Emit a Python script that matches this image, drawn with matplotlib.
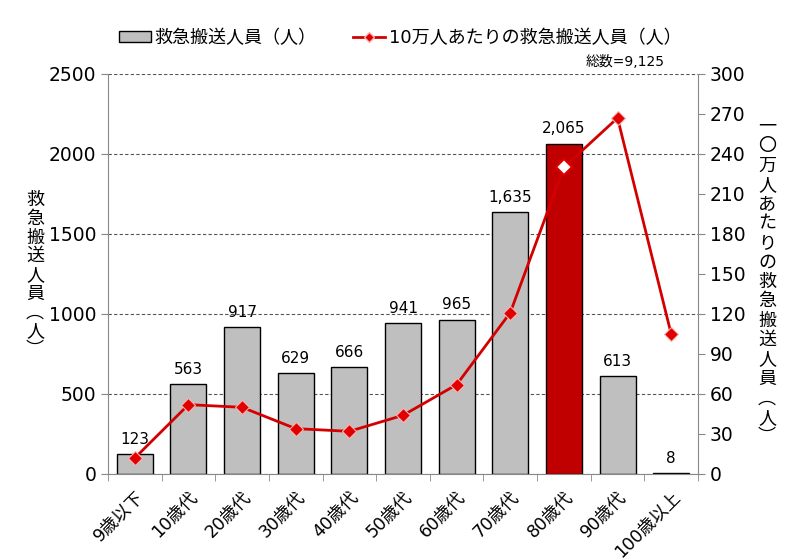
import matplotlib
matplotlib.use("Agg")
import matplotlib.pyplot as plt
from matplotlib.patches import Patch
from matplotlib.lines import Line2D
import numpy as np

plt.rcParams['font.family'] = ['DejaVu Sans', 'Noto Sans CJK JP']

categories = ["9歳以下", "10歳代", "20歳代", "30歳代", "40歳代", "50歳代",
              "60歳代", "70歳代", "80歳代", "90歳代", "100歳以上"]
counts = [123, 563, 917, 629, 666, 941, 965, 1635, 2065, 613, 8]
count_labels = ["123", "563", "917", "629", "666", "941", "965", "1,635", "2,065", "613", "8"]
per100k = [12, 52, 50, 34, 32, 44, 67, 121, 230, 267, 105]
highlight = 8

left_ticks = [0, 500, 1000, 1500, 2000, 2500]
right_ticks = [0, 30, 60, 90, 120, 150, 180, 210, 240, 270, 300]

fig = plt.figure(figsize=(8, 5.6), dpi=100)
ax = fig.add_axes([0.135, 0.1536, 0.7375, 0.7143])
x = np.arange(len(categories))

colors = ['#bfbfbf'] * len(categories)
colors[highlight] = '#c00000'
ax.bar(x, counts, width=0.67, color=colors, edgecolor='black', linewidth=1.0, zorder=2)
for xi, v, lab in zip(x, counts, count_labels):
    ax.text(xi, v + 45, lab, ha='center', va='bottom', fontsize=11, color='black')

ax.set_xlim(-0.5, len(categories) - 0.5)
ax.set_ylim(0, 2500)
ax.set_yticks(left_ticks)
ax.yaxis.grid(True, linestyle=(0, (3, 2)), color='#555555', linewidth=0.8, zorder=0)
ax.set_axisbelow(True)
ax.set_xticks(x)
ax.set_xticklabels(categories, rotation=45, ha='right', rotation_mode='anchor', fontsize=12.5)
ax.set_xticks(np.arange(-0.5, len(categories)), minor=True)
ax.tick_params(axis='x', which='major', length=0, pad=10)
ax.tick_params(axis='x', which='minor', length=5, color='#888888', direction='out')
ax.tick_params(axis='y', length=5, color='#888888', labelsize=13.5, direction='out')
ax.spines['top'].set_visible(False)
ax.spines['left'].set_color('#888888')
ax.spines['right'].set_visible(False)
ax.spines['bottom'].set_color('#888888')

ax2 = ax.twinx()
ax2.set_ylim(0, 300)
ax2.set_yticks(right_ticks)
ax2.tick_params(axis='y', length=5, color='#888888', labelsize=13.5)
for s in ['top', 'left', 'bottom']:
    ax2.spines[s].set_visible(False)
ax2.spines['right'].set_color('#888888')
ax2.plot(x, per100k, color='#d40000', linewidth=2, zorder=3)
mask = [i for i in range(len(x)) if i != highlight]
ax2.plot(x[mask], np.array(per100k)[mask], linestyle='none', marker='D', markersize=7,
         markerfacecolor='#e00000', markeredgecolor='#ffb0b0', markeredgewidth=0.8, zorder=4)
ax2.plot([x[highlight]], [per100k[highlight]], linestyle='none', marker='D', markersize=8,
         markerfacecolor='white', markeredgecolor='#e00000', markeredgewidth=1.5, zorder=4)

left_label = "救急搬送人員︵人︶"
right_label = "一〇万人あたりの救急搬送人員︵人︶"
fig.text(35 / 800, 1 - 275 / 560, "\n".join(left_label), ha='center', va='center',
         fontsize=13, linespacing=1.05, family=['Noto Sans CJK JP'])
fig.text(767 / 800, 1 - 282 / 560, "\n".join(right_label), ha='center', va='center',
         fontsize=13, linespacing=1.1, family=['Noto Sans CJK JP'])

handles = [Patch(facecolor='#bfbfbf', edgecolor='black', linewidth=1.0),
           Line2D([0], [0], color='#d40000', linewidth=2, marker='D', markersize=5,
                  markerfacecolor='#e00000', markeredgecolor='#ffb0b0')]
fig.legend(handles, ["救急搬送人員（人）", "10万人あたりの救急搬送人員（人）"],
           loc='center', bbox_to_anchor=(0.5, 1 - 38 / 560), ncol=2, frameon=False,
           fontsize=13, handlelength=1.8, handleheight=0.6, columnspacing=2.0, handletextpad=0.2)
fig.text(665 / 800, 1 - 62 / 560, "総数=9,125", ha='right', va='center', fontsize=10)

fig.savefig("out.png", dpi=100)
